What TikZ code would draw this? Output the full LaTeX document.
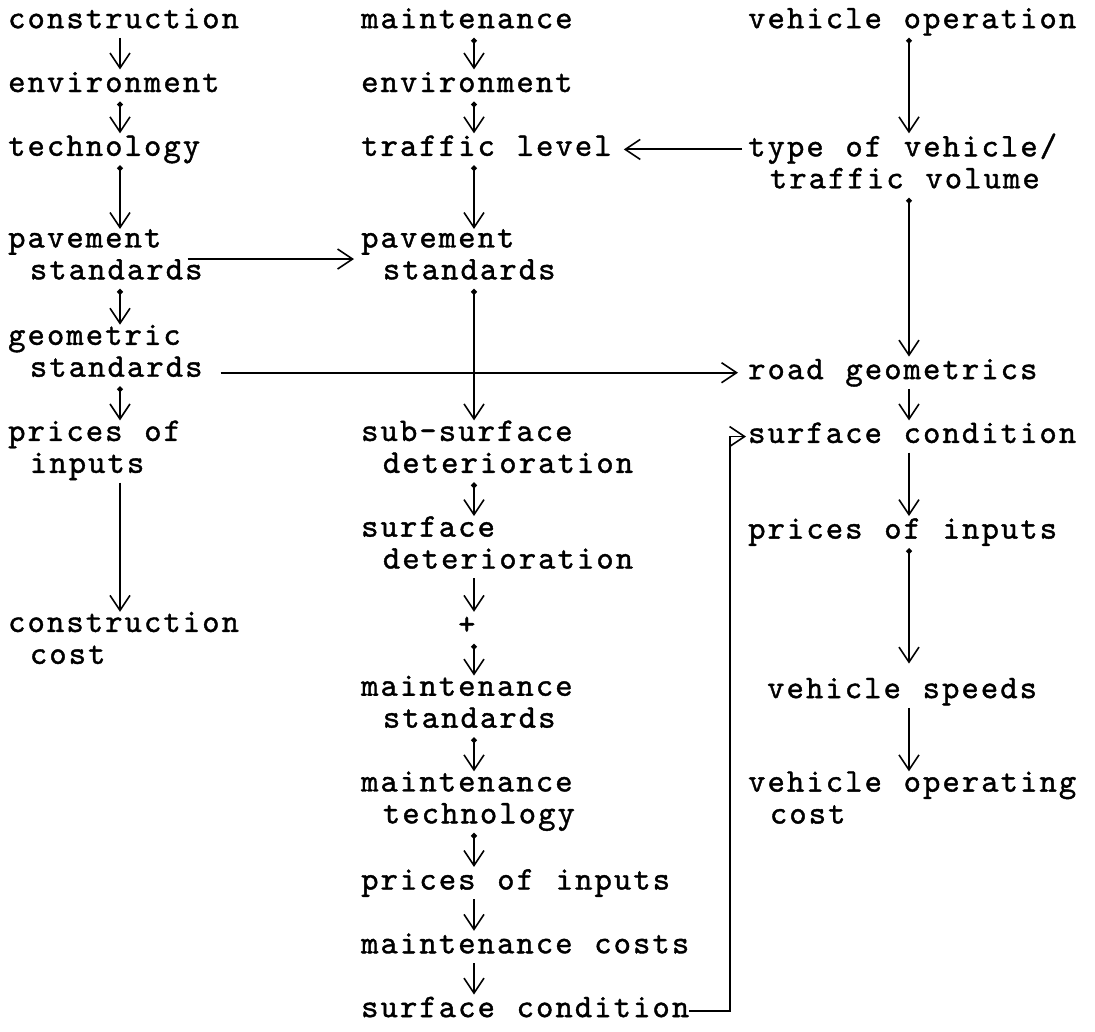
\documentclass[tikz,border=0pt]{standalone}
\usepackage{fontspec}
\newfontfamily\typer{lmmono10-regular}[Extension=.otf, LetterSpace=6.3, WordSpace={1.12,0,0}, FakeBold=1.2]
\usetikzlibrary{arrows.meta, calc}

\begin{document}
\begin{tikzpicture}[x=1pt, y=-31.9pt,
    >={Straight Barb[length=15pt, width=20pt, line width=1.6pt]},
    item/.style={anchor=north west, inner sep=0pt, align=left,
      font=\typer\fontsize{33}{31.9}\selectfont, execute at begin node=\strut},
    flow/.style={->, line width=1.9pt},
    dotflow/.style={{Circle[length=5.5pt]}->, line width=1.9pt}]
  % one y unit is one typed line
  \useasboundingbox (0,-0.178) rectangle (1095,32.173);
  % Construction
  \node[item] (con)   at (8,0)   {construction};
  \node[item] (env1)  at (8,2)   {environment};
  \node[item] (tech1) at (8,4)   {technology};
  \node[item] (pav1)  at (8,7)   {pavement\\\ standards\strut};
  \node[item] (geo)   at (8,10)  {geometric\\\ standards\strut};
  \node[item] (pri1)  at (8,13)  {prices of\\\ inputs\strut};
  \node[item] (ccost) at (8,19)  {construction\\\ cost\strut};
  % Maintenance
  \node[item] (mnt)   at (361,0)  {maintenance};
  \node[item] (env2)  at (361,2)  {environment};
  \node[item] (traf)  at (361,4)  {traffic level};
  \node[item] (pav2)  at (361,7)  {pavement\\\ standards\strut};
  \node[item] (subd)  at (361,13) {sub-surface\\\ deterioration\strut};
  \node[item] (surd)  at (361,16) {surface\\\ deterioration\strut};
  \node[item] (plus)  at (458,19) {+};
  \node[item] (mstd)  at (361,21) {maintenance\\\ standards\strut};
  \node[item] (mtech) at (361,24) {maintenance\\\ technology\strut};
  \node[item] (pri2)  at (361,27) {prices of inputs};
  \node[item] (mcost) at (361,29) {maintenance costs};
  \node[item] (scon2) at (361,31) {surface condition};
  % Vehicle operation
  \node[item] (vop)   at (748,0)  {vehicle operation};
  \node[item] (type)  at (748,4)  {type of vehicle/\\\ traffic volume\strut};
  \node[item] (road)  at (748,11) {road geometrics};
  \node[item] (scon3) at (748,13) {surface condition};
  \node[item] (pri3)  at (748,16) {prices of inputs};
  \node[item] (speed) at (767,21) {vehicle speeds};
  \node[item] (vcost) at (748,24) {vehicle operating\\\ cost\strut};
  % arrow columns
  \coordinate (a1) at (120,0);
  \coordinate (a2) at (474,0);
  \coordinate (a3) at (909,0);
  % Down the columns
  \draw[flow]    (con.south -| a1)   -- (env1.north -| a1);
  \draw[dotflow] (env1.south -| a1)  -- (tech1.north -| a1);
  \draw[dotflow] (tech1.south -| a1) -- (pav1.north -| a1);
  \draw[dotflow] (pav1.south -| a1)  -- (geo.north -| a1);
  \draw[dotflow] (geo.south -| a1)   -- (pri1.north -| a1);
  \draw[flow]    (pri1.south -| a1)  -- (ccost.north -| a1);
  \draw[dotflow] (mnt.south -| a2)   -- (env2.north -| a2);
  \draw[dotflow] (env2.south -| a2)  -- (traf.north -| a2);
  \draw[dotflow] (traf.south -| a2)  -- (pav2.north -| a2);
  \draw[dotflow] (pav2.south -| a2)  -- (subd.north -| a2);
  \draw[dotflow] (subd.south -| a2)  -- (surd.north -| a2);
  \draw[flow]    (surd.south -| a2)  -- (plus.north -| a2);
  \draw[dotflow] (plus.south -| a2)  -- (mstd.north -| a2);
  \draw[dotflow] (mstd.south -| a2)  -- (mtech.north -| a2);
  \draw[dotflow] (mtech.south -| a2) -- (pri2.north -| a2);
  \draw[flow]    (pri2.south -| a2)  -- (mcost.north -| a2);
  \draw[flow]    (mcost.south -| a2) -- (scon2.north -| a2);
  \draw[dotflow] (vop.south -| a3)   -- (type.north -| a3);
  \draw[dotflow] (type.south -| a3)  -- (road.north -| a3);
  \draw[flow]    (road.south -| a3)  -- (scon3.north -| a3);
  \draw[flow]    (scon3.south -| a3) -- (pri3.north -| a3);
  \draw[dotflow, shorten >=12pt] (pri3.south -| a3) -- (speed.north -| a3);
  \draw[flow]    (speed.south -| a3) -- (vcost.north -| a3);
  % Across
  \draw[flow] ($(pav1.east)+(-15pt,0)$) -- ($(pav2.west)+(-7pt,0)$);
  \draw[flow] ($(geo.east |- road.west)+(18pt,0)$) -- ($(road.west)+(-10pt,0)$);
  \draw[flow] ($(type.west |- traf.east)+(-6pt,0)$) -- ($(traf.east)+(12pt,0)$);
  % Feedback of surface condition
  \draw[flow, shorten >=2pt] (scon2.east) -| ($(scon3.west)+(-18pt,0)$) -- (scon3.west);
\end{tikzpicture}
\end{document}
